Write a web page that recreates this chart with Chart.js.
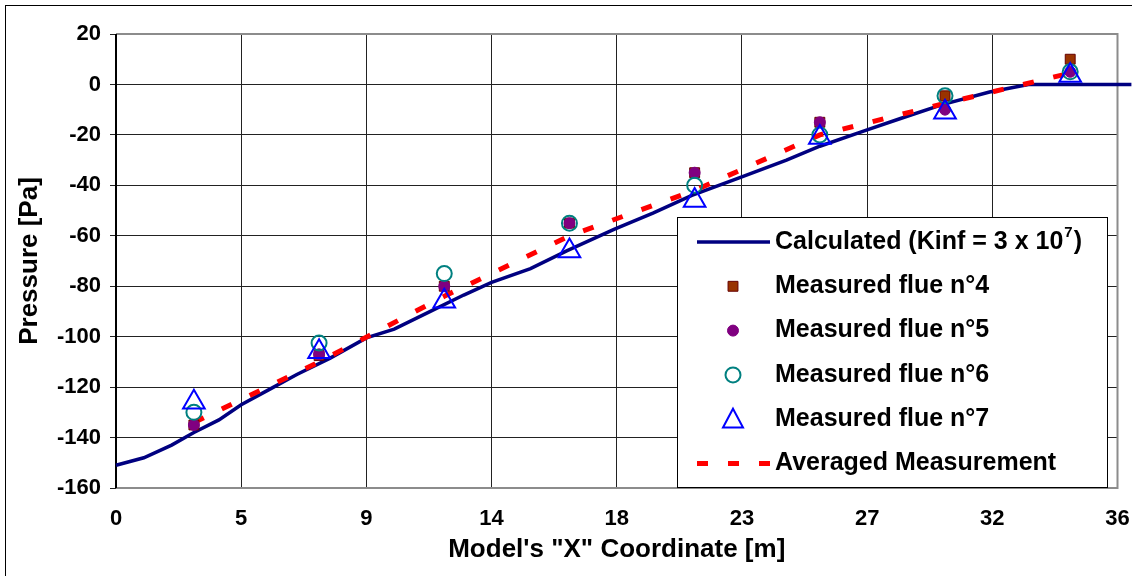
<!DOCTYPE html>
<html>
<head>
<meta charset="utf-8">
<script src="https://cdn.jsdelivr.net/npm/chart.js@4/dist/chart.umd.min.js"></script>
<style>
  html, body { margin: 0; padding: 0; background: #fff; }
  #wrap { width: 1132px; height: 576px; }
</style>
</head>
<body>
<div id="wrap"><canvas id="pressureChart" width="1132" height="576"></canvas></div>
<script>
// tick labels (the x grid is every 4.5 m, Excel rounded the labels)
const xTickLabels = ["0", "5", "9", "14", "18", "23", "27", "32", "36"];
const yTickLabels = ["-160", "-140", "-120", "-100", "-80", "-60", "-40", "-20", "0", "20"];

// calculated pressure curve
const calcX = [0, 1, 2, 2.8, 3.7, 4.5, 5.5, 6.5, 7.7, 9, 10, 11.3, 12.5, 13.5, 14.9, 16.2,
  17.9, 19.3, 20.7, 22.4, 24.1, 25.3, 27, 28.2, 29.7, 31.4, 32.8, 36.5];
const calcY = [-151, -148, -143, -138, -133, -127, -121, -115, -108.5, -100.5, -97, -90, -83.5,
  -78.5, -73, -66, -57.5, -51, -44, -37, -30, -24.5, -18, -13.5, -8, -3, 0, 0];

// measurement positions and flues
const measX = [2.8, 7.3, 11.8, 16.3, 20.8, 25.3, 29.8, 34.3];
const flue4 = [-135, -107.5, -80, -55, -35, -15, -4.5, 10];
const flue5 = [-135, -107, -80, -55, -35, -15, -10, 5];
const flue6 = [-130, -102.5, -75, -55, -40, -20, -4.5, 5];
const flue7 = [-126, -106, -86, -66, -46, -21, -11, 3.5];
const averaged = [-134, -110, -84, -60, -42, -20, -7.5, 4.5];

const FONT = "'Liberation Sans', Arial, sans-serif";

function toPoints(xs, ys) {
  return xs.map((x, i) => ({ x: x, y: ys[i] }));
}

// plot frame + outer border
const framePlugin = {
  id: "frame",
  beforeDatasetsDraw(chart) {
    const { ctx, chartArea: a } = chart;
    ctx.save();
    ctx.strokeStyle = "#8c8c8c";
    ctx.lineWidth = 2;
    ctx.beginPath();
    ctx.moveTo(a.left, a.top);
    ctx.lineTo(a.right, a.top);
    ctx.lineTo(a.right, a.bottom);
    ctx.lineTo(a.left, a.bottom);
    ctx.stroke();
    ctx.strokeStyle = "#000";
    ctx.beginPath();
    ctx.moveTo(a.left, a.top);
    ctx.lineTo(a.left, a.bottom);
    ctx.stroke();
    ctx.lineWidth = 1;
    ctx.strokeRect(5.5, 5.5, chart.width, chart.height);
    ctx.restore();
  }
};

// legend box inside the plot, bottom right
const legendPlugin = {
  id: "boxLegend",
  afterDraw(chart) {
    const ctx = chart.ctx;
    const bx = 677.5, by = 217.5, bw = 430, bh = 270;
    const iconX = 733, textX = 775, row0 = 242, rowH = 44.3;
    const ds = chart.data.datasets;
    ctx.save();
    ctx.fillStyle = "#fff";
    ctx.fillRect(bx, by, bw, bh);
    ctx.strokeStyle = "#000";
    ctx.lineWidth = 1;
    ctx.strokeRect(bx, by, bw, bh);

    ds.forEach((d, i) => {
      const y = row0 + i * rowH;
      ctx.save();
      if (d.showLine) {
        ctx.strokeStyle = d.borderColor;
        ctx.lineWidth = d.borderWidth;
        ctx.setLineDash(d.borderDash || []);
        ctx.beginPath();
        ctx.moveTo(697, y);
        ctx.lineTo(770, y);
        ctx.stroke();
      } else {
        ctx.fillStyle = d.backgroundColor;
        ctx.strokeStyle = d.borderColor;
        ctx.lineWidth = d.borderWidth;
        const r = d.pointRadius;
        ctx.beginPath();
        if (d.pointStyle === "rect") {
          const s = r * Math.SQRT1_2;
          ctx.rect(iconX - s, y - s, 2 * s, 2 * s);
        } else if (d.pointStyle === "triangle") {
          ctx.moveTo(iconX, y - r + 2);
          ctx.lineTo(iconX + r * 0.8, y + r / 2 + 2);
          ctx.lineTo(iconX - r * 0.8, y + r / 2 + 2);
          ctx.closePath();
        } else {
          ctx.arc(iconX, y, r, 0, Math.PI * 2);
        }
        ctx.fill();
        ctx.stroke();
      }
      ctx.restore();

      ctx.fillStyle = "#000";
      ctx.textBaseline = "middle";
      ctx.textAlign = "left";
      ctx.font = "bold 25px " + FONT;
      ctx.fillText(d.label, textX, y);
      if (d.labelSup) {
        let x = textX + ctx.measureText(d.label).width + 1;
        ctx.font = "bold 15px " + FONT;
        ctx.fillText(d.labelSup, x, y - 9);
        x += ctx.measureText(d.labelSup).width + 1;
        ctx.font = "bold 25px " + FONT;
        ctx.fillText(")", x, y);
      }
    });
    ctx.restore();
  }
};

const ctx = document.getElementById("pressureChart").getContext("2d");

new Chart(ctx, {
  type: "scatter",
  data: {
    datasets: [
      {
        label: "Calculated (Kinf = 3 x 10",
        labelSup: "7",
        data: toPoints(calcX, calcY),
        showLine: true,
        borderColor: "#000080",
        borderWidth: 3.5,
        pointRadius: 0,
        clip: false,
        order: 6
      },
      {
        label: "Measured flue n°4",
        data: toPoints(measX, flue4),
        pointStyle: "rect",
        pointRadius: 7,
        backgroundColor: "#993300",
        borderColor: "#660000",
        borderWidth: 1,
        order: 4
      },
      {
        label: "Measured flue n°5",
        data: toPoints(measX, flue5),
        pointStyle: "circle",
        pointRadius: 5.5,
        backgroundColor: "#800080",
        borderColor: "#800080",
        borderWidth: 1,
        order: 3
      },
      {
        label: "Measured flue n°6",
        data: toPoints(measX, flue6),
        pointStyle: "circle",
        pointRadius: 7.5,
        backgroundColor: "rgba(0,0,0,0)",
        borderColor: "#008080",
        borderWidth: 2,
        order: 2
      },
      {
        label: "Measured flue n°7",
        data: toPoints(measX, flue7),
        pointStyle: "triangle",
        pointRadius: 12.5,
        backgroundColor: "rgba(0,0,0,0)",
        borderColor: "#0000ff",
        borderWidth: 2,
        order: 1
      },
      {
        label: "Averaged Measurement",
        data: toPoints(measX, averaged),
        showLine: true,
        borderColor: "#ff0000",
        borderWidth: 5,
        borderDash: [11, 20],
        borderCapStyle: "butt",
        pointRadius: 0,
        order: 5
      }
    ]
  },
  options: {
    responsive: false,
    devicePixelRatio: 1,
    animation: false,
    events: [],
    layout: { padding: { top: 34, right: 0, left: 0, bottom: 0 } },
    plugins: {
      legend: { display: false },
      tooltip: { enabled: false }
    },
    scales: {
      x: {
        type: "linear",
        min: 0,
        max: 36,
        afterFit: (s) => {
          s.height = 88;
          s.paddingLeft = 0;
          s.paddingRight = 13;
        },
        afterBuildTicks: (s) => {
          s.ticks = xTickLabels.map((t, i) => ({ value: i * 4.5 }));
        },
        ticks: {
          autoSkip: false,
          maxRotation: 0,
          padding: 18,
          color: "#000",
          font: { family: FONT, size: 22, weight: "bold" },
          callback: (v, i) => xTickLabels[i]
        },
        grid: { color: "#222", lineWidth: 1, drawTicks: false },
        border: { display: false },
        title: {
          display: true,
          text: "Model's \"X\" Coordinate [m]",
          color: "#000",
          font: { family: FONT, size: 26, weight: "bold" },
          padding: { top: 0, bottom: 11 }
        }
      },
      y: {
        type: "linear",
        min: -160,
        max: 20,
        afterFit: (s) => { s.width = 116; },
        afterBuildTicks: (s) => {
          s.ticks = yTickLabels.map((t) => ({ value: Number(t) }));
        },
        ticks: {
          padding: 9,
          color: "#000",
          font: { family: FONT, size: 22, weight: "bold" },
          callback: (v, i) => yTickLabels[i]
        },
        grid: { color: "#222", lineWidth: 1, drawTicks: true, tickLength: 6 },
        border: { display: false },
        title: {
          display: true,
          text: "Pressure [Pa]",
          color: "#000",
          font: { family: FONT, size: 26, weight: "bold" },
          padding: { top: 14, bottom: 0 }
        }
      }
    }
  },
  plugins: [framePlugin, legendPlugin]
});
</script>
</body>
</html>
